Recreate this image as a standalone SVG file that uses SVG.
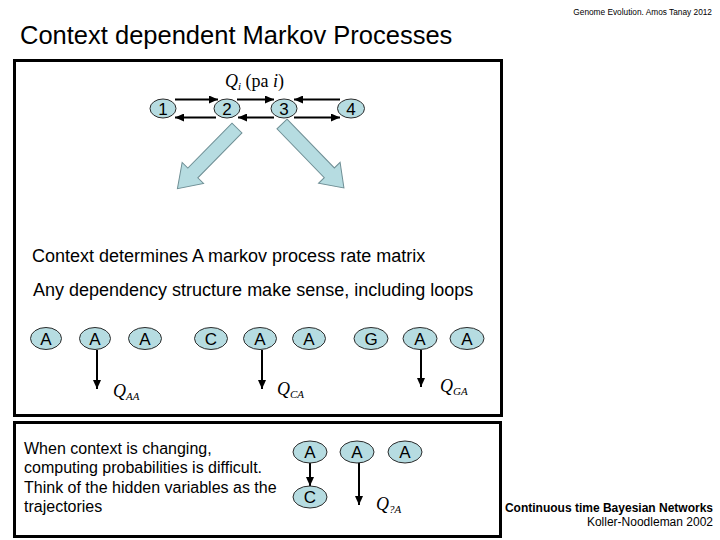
<svg xmlns="http://www.w3.org/2000/svg" width="720" height="540" viewBox="0 0 720 540">
<defs>
<marker id="ah" markerUnits="userSpaceOnUse" markerWidth="9" markerHeight="8" refX="9" refY="4" orient="auto">
<path d="M0,0 L9,4 L0,8 z" fill="#000"/>
</marker>
<style>
.frame{fill:none;stroke:#000;stroke-width:3}
.nd{fill:#b6dce1;stroke:#2b2b2b;stroke-width:1}
.lbl{font-family:"Liberation Sans",Arial,sans-serif;font-size:17px;fill:#000;text-anchor:middle}
.txt{font-family:"Liberation Sans",Arial,sans-serif;fill:#000}
.q{font-family:"Liberation Serif","Times New Roman",serif;font-size:18px;fill:#000}
.e{stroke:#000;stroke-width:2;fill:none;marker-end:url(#ah)}
.blk{fill:#b6dce1;stroke:#6f8f95;stroke-width:1}
</style>
</defs>
<rect width="720" height="540" fill="#fff"/>
<text class="txt" x="712" y="15" font-size="8.3" text-anchor="end">Genome Evolution. Amos Tanay 2012</text>
<text class="txt" x="20" y="44" font-size="25.5">Context dependent Markov Processes</text>
<rect class="frame" x="14.5" y="60.5" width="487" height="355"/>
<rect class="frame" x="14.5" y="422.5" width="486" height="114"/>

<g id="connectors">
<line class="e" x1="175" y1="99.5" x2="218" y2="99.5"/>
<line class="e" x1="237" y1="99.5" x2="274" y2="99.5"/>
<line class="e" x1="340" y1="99.5" x2="294" y2="99.5"/>
<line class="e" x1="216" y1="117.5" x2="175" y2="117.5"/>
<line class="e" x1="274" y1="117.5" x2="238" y2="117.5"/>
<line class="e" x1="294" y1="117.5" x2="340" y2="117.5"/>
<polygon class="blk" transform="translate(237,128) rotate(134.5)" points="0,-7 63,-7 63,-15 85,0 63,15 63,7 0,7"/>
<polygon class="blk" transform="translate(282,124) rotate(45.9)" points="0,-7 68,-7 68,-15 89,0 68,15 68,7 0,7"/>
<line class="e" x1="97" y1="350" x2="97" y2="389"/>
<line class="e" x1="262" y1="350" x2="262" y2="389"/>
<line class="e" x1="421" y1="350" x2="421" y2="387"/>
<line class="e" x1="310" y1="463" x2="310" y2="486"/>
<line class="e" x1="359" y1="463" x2="359" y2="505"/>
</g>

<text class="q" x="225" y="87" font-size="19"><tspan font-style="italic">Q</tspan><tspan font-style="italic" font-size="11" dy="3">i</tspan><tspan dy="-3"> (pa</tspan><tspan font-style="italic"> i</tspan>)</text>

<g id="n1"><ellipse class="nd" cx="163" cy="108.5" rx="13" ry="9.5"/><text class="lbl" x="163" y="114.5">1</text></g>
<g id="n2"><ellipse class="nd" cx="227" cy="108.5" rx="13" ry="9.5"/><text class="lbl" x="227" y="114.5">2</text></g>
<g id="n3"><ellipse class="nd" cx="284" cy="108.5" rx="13" ry="9.5"/><text class="lbl" x="284" y="114.5">3</text></g>
<g id="n4"><ellipse class="nd" cx="351" cy="108.5" rx="13.5" ry="9.5"/><text class="lbl" x="351" y="114.5">4</text></g>

<text class="txt" x="32" y="262" font-size="18">Context determines A markov process rate matrix</text>
<text class="txt" x="33" y="296" font-size="18">Any dependency structure make sense, including loops</text>

<g id="r1"><ellipse class="nd" cx="46" cy="338.5" rx="15.5" ry="11"/><text class="lbl" x="46" y="344.5">A</text></g>
<g id="r2"><ellipse class="nd" cx="95" cy="338.5" rx="15.5" ry="11"/><text class="lbl" x="95" y="344.5">A</text></g>
<g id="r3"><ellipse class="nd" cx="145" cy="338.5" rx="16.5" ry="11"/><text class="lbl" x="145" y="344.5">A</text></g>
<g id="r4"><ellipse class="nd" cx="211" cy="338.5" rx="16.5" ry="11"/><text class="lbl" x="211" y="344.5">C</text></g>
<g id="r5"><ellipse class="nd" cx="260" cy="338.5" rx="16.5" ry="11"/><text class="lbl" x="260" y="344.5">A</text></g>
<g id="r6"><ellipse class="nd" cx="309" cy="338.5" rx="16.5" ry="11"/><text class="lbl" x="309" y="344.5">A</text></g>
<g id="r7"><ellipse class="nd" cx="371" cy="338.5" rx="17" ry="11"/><text class="lbl" x="371" y="344.5">G</text></g>
<g id="r8"><ellipse class="nd" cx="420" cy="338.5" rx="17" ry="11"/><text class="lbl" x="420" y="344.5">A</text></g>
<g id="r9"><ellipse class="nd" cx="467" cy="338.5" rx="17" ry="11"/><text class="lbl" x="467" y="344.5">A</text></g>

<text class="q" x="113" y="397"><tspan font-style="italic">Q</tspan><tspan font-style="italic" font-size="11" dy="3">AA</tspan></text>
<text class="q" x="277" y="395"><tspan font-style="italic">Q</tspan><tspan font-style="italic" font-size="11" dy="3">CA</tspan></text>
<text class="q" x="440" y="392"><tspan font-style="italic">Q</tspan><tspan font-style="italic" font-size="11" dy="3">GA</tspan></text>

<text class="txt" font-size="16"><tspan x="24" y="454">When context is changing,</tspan><tspan x="24" y="473.3">computing probabilities is difficult.</tspan><tspan x="24" y="492.6">Think of the hidden variables as the</tspan><tspan x="24" y="511.9">trajectories</tspan></text>

<g id="b1"><ellipse class="nd" cx="310" cy="452" rx="17" ry="11"/><text class="lbl" x="310" y="458">A</text></g>
<g id="b2"><ellipse class="nd" cx="357" cy="452" rx="17" ry="11"/><text class="lbl" x="357" y="458">A</text></g>
<g id="b3"><ellipse class="nd" cx="405" cy="452" rx="17" ry="11"/><text class="lbl" x="405" y="458">A</text></g>
<g id="b4"><ellipse class="nd" cx="310" cy="497" rx="17" ry="11"/><text class="lbl" x="310" y="503">C</text></g>

<text class="q" x="376" y="510"><tspan font-style="italic">Q</tspan><tspan font-style="italic" font-size="11" dy="3">?A</tspan></text>

<text class="txt" x="713" y="512" font-size="12" font-weight="bold" text-anchor="end">Continuous time Bayesian Networks</text>
<text class="txt" x="713" y="526" font-size="12" text-anchor="end">Koller-Noodleman 2002</text>
</svg>
